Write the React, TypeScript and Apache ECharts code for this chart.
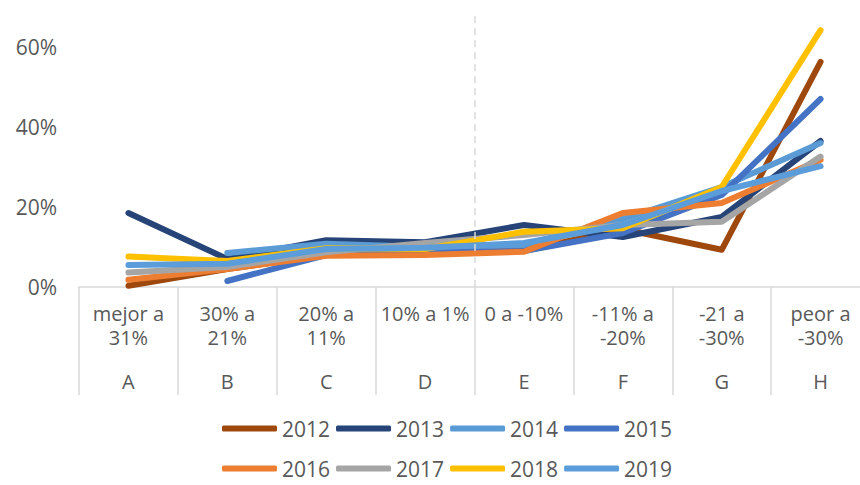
import React, { useEffect, useRef } from "react";
import * as echarts from "echarts";

const rangeLabels = ["mejor a\n31%", "30% a\n21%", "20% a\n11%", "10% a 1%", "0 a -10%", "-11% a\n-20%", "-21 a\n-30%", "peor a\n-30%"];
const letters = ["A", "B", "C", "D", "E", "F", "G", "H"];
const years = ["2012", "2013", "2014", "2015", "2016", "2017", "2018", "2019"];

const s2012 = [0.3, 4.5, 8, 8.5, 9, 14.5, 9.3, 56.3];
const s2013 = [18.5, 7, 11.7, 11.2, 15.5, 12.5, 17.5, 36.5];
const s2014 = [null, 8.5, 10.8, 10, 10.5, 17, 25, 36];
const s2015 = [null, 1.5, 8, 8.7, 9, 13.5, 23, 47];
const s2016 = [1.8, 4.5, 7.8, 8, 8.8, 18.5, 21, 31.8];
const s2017 = [3.6, 5, 8.7, 11, 13, 15.5, 16.3, 32.6];
const s2018 = [7.6, 6.5, 9.7, 9.5, 13.8, 14.7, 25, 64.2];
const s2019 = [5.5, 5.8, 9.5, 9.8, 11, 15.5, 24, 30.2];

const seriesValues = [s2012, s2013, s2014, s2015, s2016, s2017, s2018, s2019];
const colors = ["#9E480E", "#264478", "#5B9BD5", "#4472C4", "#ED7D31", "#A5A5A5", "#FFC000", "#5A9DDA"];

// boundary between "10% a 1%" (D) and "0 a -10%" (E), in category units
const dividerAt = 4;

const FONT = "Open Sans";
const TXT = "#595959";

export default function App() {
  const ref = useRef<HTMLDivElement>(null);
  useEffect(() => {
    document.body.style.margin = "0";
    document.body.style.overflow = "hidden";
    const chart = echarts.init(ref.current!, undefined, { renderer: "svg" });
    const legendBase = {
      padding: 0,
      itemWidth: 55,
      itemHeight: 6,
      itemGap: 6,
      icon: "roundRect",
      textStyle: { fontSize: 21, color: TXT, fontFamily: FONT },
    };
    chart.setOption({
      animation: false,
      backgroundColor: "#ffffff",
      textStyle: { fontFamily: FONT },
      grid: { left: 79, right: 0, top: 15, bottom: 198, containLabel: false },
      legend: [
        { ...legendBase, data: years.slice(0, 4), left: 222, top: 418 },
        { ...legendBase, data: years.slice(4), left: 222, top: 458 },
      ],
      xAxis: [
        {
          type: "category",
          data: rangeLabels,
          boundaryGap: true,
          position: "bottom",
          axisLine: { show: true, lineStyle: { color: "#D9D9D9", width: 1.5 } },
          axisTick: { show: true, length: 108, lineStyle: { color: "#D9D9D9", width: 1.5 } },
          splitLine: { show: false },
          axisLabel: {
            interval: 0,
            fontSize: 20,
            lineHeight: 24,
            color: TXT,
            margin: 14,
            fontFamily: FONT,
          },
        },
        {
          type: "category",
          data: letters,
          position: "bottom",
          offset: 76,
          axisLine: { show: false },
          axisTick: { show: false },
          splitLine: { show: false },
          axisLabel: { interval: 0, fontSize: 20, lineHeight: 20, color: TXT, margin: 8, fontFamily: FONT },
        },
        {
          type: "value",
          min: 0,
          max: letters.length,
          show: false,
        },
      ],
      yAxis: {
        type: "value",
        min: 0,
        max: 68,
        interval: 20,
        axisLine: { show: false },
        axisTick: { show: false },
        splitLine: { show: false },
        axisLabel: {
          formatter: "{value}%",
          fontSize: 21,
          color: TXT,
          margin: 22,
          showMaxLabel: false,
          fontFamily: FONT,
        },
      },
      series: [
        {
          name: "divider",
          type: "line",
          xAxisIndex: 2,
          data: [],
          silent: true,
          markLine: {
            silent: true,
            symbol: "none",
            label: { show: false },
            lineStyle: { color: "#D9D9D9", type: [7, 5], width: 1.5 },
            data: [{ xAxis: dividerAt }],
          },
        },
        ...years.map((y, i) => ({
          name: y,
          type: "line",
          xAxisIndex: 0,
          data: seriesValues[i],
          showSymbol: false,
          symbol: "none",
          connectNulls: false,
          color: colors[i],
          lineStyle: { width: 6, color: colors[i], cap: "round", join: "round" },
        })),
      ],
    });
    return () => chart.dispose();
  }, []);
  return <div ref={ref} style={{ width: 870, height: 485 }} />;
}
